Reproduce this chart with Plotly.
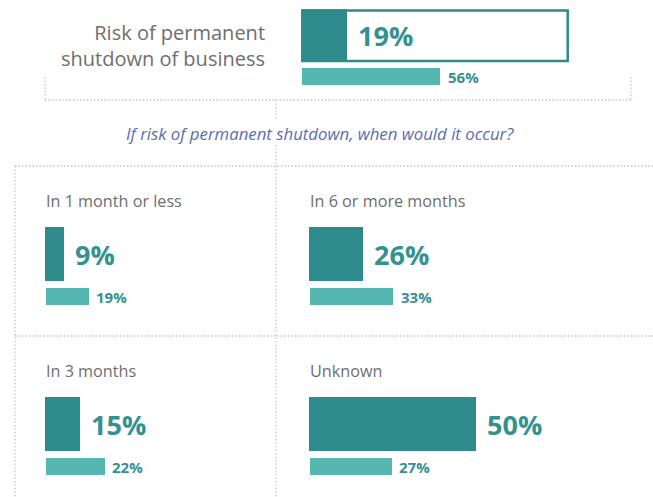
import plotly.graph_objects as go

# ---------------- data ----------------
headline_label = "Risk of permanent<br>shutdown of business"
headline_primary = 19
headline_secondary = 56
question = "If risk of permanent shutdown, when would it occur?"
categories = ["In 1 month or less", "In 6 or more months", "In 3 months", "Unknown"]
primary_values = [9, 26, 15, 50]
secondary_values = [19, 33, 22, 27]

# ---------------- style / layout ----------------
W, H = 653, 497
DARK = "#2e8b8b"
LIGHT = "#56b6b0"
NUM = "#34918f"
GREY = "#6e6e6e"
BLUE = "#5a6db0"
DOT = "#b4bbe4"
FONT = "Open Sans"

def px(x):
    return x / W

def py(y):
    return 1 - y / H

# panel anchor (left x, top y of primary bar) and per-bar axis scale (px per 100 %)
panel_left = [45, 309, 45, 309]
panel_top = [227, 227, 397, 397]
primary_scale = [211, 208, 233, 333]
secondary_scale = [224, 252, 268, 302]

fig = go.Figure()
annotations = []
shapes = []
axis_count = [0]

def add_bar(value, x0, y0, y1, scale, color, big):
    axis_count[0] += 1
    k = axis_count[0]
    xa = "x" if k == 1 else f"x{k}"
    ya = "y" if k == 1 else f"y{k}"
    fig.add_trace(go.Bar(
        x=[value], y=[0], orientation="h", width=1,
        marker=dict(color=color, line=dict(width=0)),
        xaxis=xa, yaxis=ya, hoverinfo="skip", showlegend=False,
    ))
    xkey = "xaxis" if k == 1 else f"xaxis{k}"
    ykey = "yaxis" if k == 1 else f"yaxis{k}"
    fig.layout[xkey] = dict(domain=[px(x0), px(x0 + scale)], range=[0, 100],
                            visible=False, fixedrange=True, anchor=ya)
    fig.layout[ykey] = dict(domain=[py(y1), py(y0)], range=[-0.5, 0.5],
                            visible=False, fixedrange=True, anchor=xa)
    annotations.append(dict(
        x=value, y=0, xref=xa, yref=ya, xanchor="left", yanchor="middle",
        xshift=9 if big else 6, showarrow=False,
        text=f"<b>{value}%</b>",
        font=dict(family=FONT, size=27 if big else 15, color=NUM),
    ))

# headline box outline
shapes.append(dict(type="rect", xref="paper", yref="paper",
                   x0=px(302.3), x1=px(567.7), y0=py(61), y1=py(10.5),
                   line=dict(color=DARK, width=2.5), fillcolor="white", layer="below"))
add_bar(headline_primary, 301.5, 9.3, 62.3, 237, DARK, True)
add_bar(headline_secondary, 302, 68, 85, 246, LIGHT, False)

annotations.append(dict(x=px(267), y=py(45), xref="paper", yref="paper",
                        xanchor="right", yanchor="middle", align="right",
                        showarrow=False, text=headline_label,
                        font=dict(family=FONT, size=20, color=GREY)))
annotations.append(dict(x=px(320), y=py(133), xref="paper", yref="paper",
                        xanchor="center", yanchor="middle", showarrow=False,
                        text=f"<i>{question}</i>",
                        font=dict(family=FONT, size=16.8, color=BLUE)))

for i, cat in enumerate(categories):
    x0 = panel_left[i]
    t = panel_top[i]
    add_bar(primary_values[i], x0, t, t + 54, primary_scale[i], DARK, True)
    add_bar(secondary_values[i], x0 + 0.5, t + 61, t + 78, secondary_scale[i], LIGHT, False)
    annotations.append(dict(x=px(x0 - 1), y=py(t - 26), xref="paper", yref="paper",
                            xanchor="left", yanchor="middle", showarrow=False,
                            text=cat, font=dict(family=FONT, size=16.2, color=GREY)))

def dotted(x0, y0, x1, y1):
    shapes.append(dict(type="line", xref="paper", yref="paper",
                       x0=px(x0), y0=py(y0), x1=px(x1), y1=py(y1),
                       line=dict(color=DOT, width=1.3, dash="1.3px,2.2px"), layer="below"))

# bracket under headline
dotted(45, 77, 45, 100)
dotted(631, 77, 631, 100)
dotted(45, 100, 631, 100)
dotted(276, 100, 276, 121)
dotted(276, 145, 276, 166)
# grid
dotted(15, 166, 653, 166)
dotted(15, 336, 653, 336)
dotted(15, 166, 15, 497)
dotted(276, 166, 276, 497)

fig.update_layout(
    width=W, height=H, margin=dict(l=0, r=0, t=0, b=0),
    paper_bgcolor="white", plot_bgcolor="rgba(0,0,0,0)",
    annotations=annotations, shapes=shapes, bargap=0,
    font=dict(family=FONT),
)

fig.write_html("out.html", config={"displayModeBar": False},
               post_script="document.body.style.margin='0px';document.body.style.overflow='hidden';")
